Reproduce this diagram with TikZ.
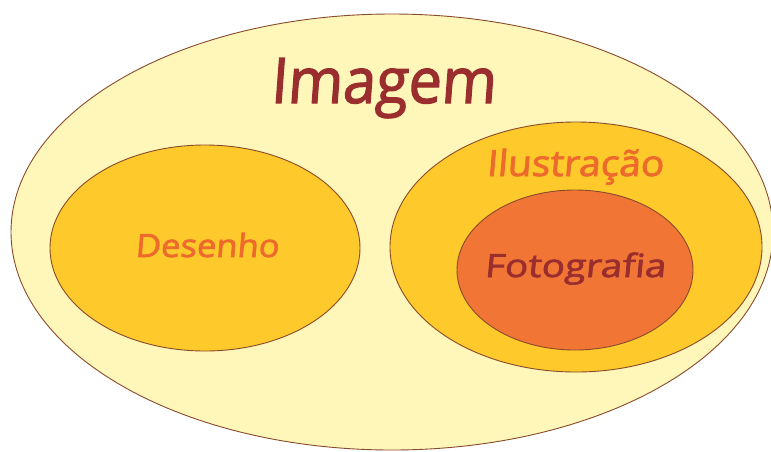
\documentclass[tikz,border=0pt]{standalone}
\usepackage{fontspec}
\setmainfont{Open Sans}[FakeSlant=0.08,FakeBold=2]
\definecolor{paleyellow}{HTML}{FFF7B9}
\definecolor{gold}{HTML}{FDC92B}
\definecolor{tangerine}{HTML}{F17636}
\definecolor{rim}{HTML}{8A4A2C}
\definecolor{wine}{HTML}{9A2D2E}
\definecolor{flame}{HTML}{EE6A2C}
\begin{document}
\begin{tikzpicture}[x=1pt,y=-1pt,
  set/.style={draw=rim,line width=0.9pt},
  lbl/.style={inner sep=0pt,anchor=base}]
\useasboundingbox (0,0) rectangle (771,451);
\fill[white] (0,0) rectangle (771,451);
% outer set
\path[set,fill=paleyellow] (392,232) ellipse [x radius=381,y radius=218];
% inner sets
\path[set,fill=gold] (205,248) ellipse [x radius=155,y radius=103];
\path[set,fill=gold] (576,247) ellipse [x radius=186,y radius=125];
\path[set,fill=tangerine] (575,270) ellipse [x radius=118,y radius=80];
% labels
\node[lbl,text=wine,font=\fontsize{63}{65}\selectfont,xscale=0.94] (imagem) at (383,103) {Imagem};
\node[lbl,text=flame,font=\fontsize{32}{34}\selectfont,xscale=1.08] (desenho) at (207,257) {Desenho};
\node[lbl,text=flame,font=\fontsize{36}{38}\selectfont,xscale=1.08] (ilustracao) at (575,176) {Ilustração};
\node[lbl,text=wine,font=\fontsize{32}{34}\selectfont,xscale=1.2] (fotografia) at (575,277) {Fotografia};
\end{tikzpicture}
\end{document}
